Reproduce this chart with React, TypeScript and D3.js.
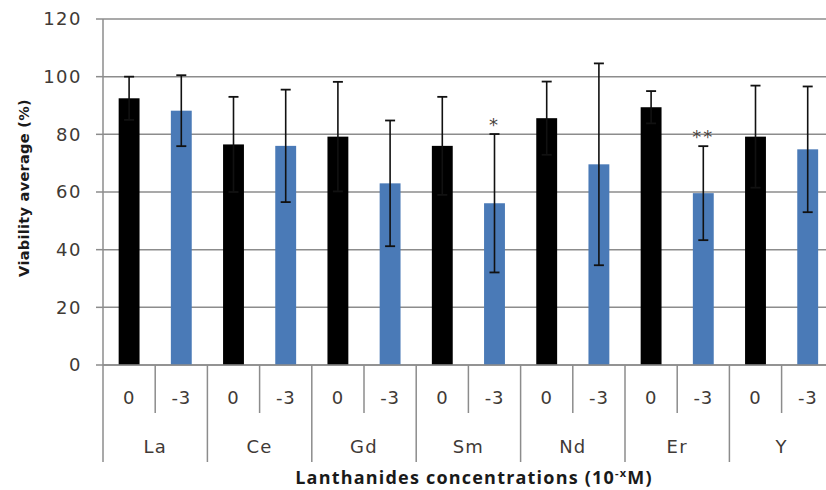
import React from "react";
import * as d3 from "d3";

const elements = ["La", "Ce", "Gd", "Sm", "Nd", "Er", "Y"];
const concentrations = ["0", "-3"];
const meansZero = [92.5, 76.5, 79.2, 76.0, 85.6, 89.4, 79.2];
const meansMinus3 = [88.2, 76.0, 63.0, 56.1, 69.6, 59.6, 74.8];
const errZero = [7.5, 16.5, 19.0, 17.0, 12.7, 5.6, 17.7];
const errMinus3 = [12.3, 19.5, 21.8, 24.0, 35.0, 16.3, 21.8];
const significance = ["", "", "", "*", "", "**", ""];
const yTicks = [0, 20, 40, 60, 80, 100, 120];

const W = 826;
const H = 490;
const left = 103;
const top = 19;
const bottom = 365;
const groupW = 104.4;
const right = left + groupW * elements.length;

const seriesColors: Record<string, string> = { "0": "#000000", "-3": "#4a7ab7" };

export default function App() {
  const y = d3.scaleLinear().domain([0, 120]).range([bottom, top]);
  const xG = d3.scaleBand().domain(elements).range([left, right]).padding(0);
  const xS = d3
    .scaleBand()
    .domain(concentrations)
    .range([0, xG.bandwidth()])
    .paddingInner(0.6)
    .paddingOuter(0.3);

  const rows = elements.flatMap((el, i) => [
    { el, c: "0", v: meansZero[i], e: errZero[i], sig: "" },
    { el, c: "-3", v: meansMinus3[i], e: errMinus3[i], sig: significance[i] },
  ]);

  const tickFont = "'DejaVu Sans', Verdana, sans-serif";
  const tickSize = 18;
  const labelColor = "#3f3a36";
  const gridColor = "#8c8c8c";
  const capW = 10;

  return (
    <svg
      width={W}
      height={H}
      style={{ position: "absolute", left: 0, top: 0, background: "#fff" }}
    >
      {/* gridlines */}
      {yTicks.map((t) => (
        <g key={t}>
          <line x1={left} x2={W} y1={y(t)} y2={y(t)} stroke={gridColor} strokeWidth={1.5} />
          <line x1={left - 7} x2={left} y1={y(t)} y2={y(t)} stroke={gridColor} strokeWidth={1.5} />
          <text
            x={82}
            y={y(t)}
            dy="0.36em"
            textAnchor="end"
            fontFamily={tickFont}
            fontSize={tickSize}
            letterSpacing={1.5}
            fill={labelColor}
          >
            {t}
          </text>
        </g>
      ))}
      {/* y axis */}
      <line x1={left} x2={left} y1={top} y2={bottom} stroke={gridColor} strokeWidth={1.5} />

      {/* bars */}
      {rows.map((r, i) => {
        const x0 = (xG(r.el) as number) + (xS(r.c) as number);
        const bw = xS.bandwidth();
        const cx = x0 + bw / 2;
        return (
          <g key={i}>
            <rect x={x0} y={y(r.v)} width={bw} height={bottom - y(r.v)} fill={seriesColors[r.c]} />
            <line x1={cx} x2={cx} y1={y(r.v + r.e)} y2={y(r.v - r.e)} stroke="#111" strokeWidth={1.6} />
            <line x1={cx - capW / 2} x2={cx + capW / 2} y1={y(r.v + r.e)} y2={y(r.v + r.e)} stroke="#111" strokeWidth={1.8} />
            <line x1={cx - capW / 2} x2={cx + capW / 2} y1={y(r.v - r.e)} y2={y(r.v - r.e)} stroke="#111" strokeWidth={1.8} />
            {r.sig && (
              <text
                x={cx}
                y={y(r.v + r.e) - 3}
                textAnchor="middle"
                fontFamily={tickFont}
                fontSize={18}
                fill="#4a4440"
                letterSpacing={2}
              >
                {r.sig}
              </text>
            )}
          </g>
        );
      })}

      {/* category axis */}
      <line x1={left} x2={W} y1={bottom} y2={bottom} stroke={gridColor} strokeWidth={1.5} />
      {elements.map((el) => {
        const gx = xG(el) as number;
        return (
          <g key={el}>
            <line x1={gx} x2={gx} y1={bottom} y2={462} stroke={gridColor} strokeWidth={1.5} />
            <line
              x1={gx + xG.bandwidth() / 2}
              x2={gx + xG.bandwidth() / 2}
              y1={bottom}
              y2={413}
              stroke={gridColor}
              strokeWidth={1.5}
            />
            {concentrations.map((c) => (
              <text
                key={c}
                x={gx + (xS(c) as number) + xS.bandwidth() / 2}
                y={398}
                dy="0.36em"
                textAnchor="middle"
                fontFamily={tickFont}
                fontSize={tickSize}
                letterSpacing={0.8}
                fill={labelColor}
              >
                {c}
              </text>
            ))}
            <text
              x={gx + xG.bandwidth() / 2}
              y={447}
              dy="0.36em"
              textAnchor="middle"
              fontFamily={tickFont}
              fontSize={tickSize}
              letterSpacing={1.2}
              fill={labelColor}
            >
              {el}
            </text>
          </g>
        );
      })}

      {/* axis titles */}
      <text
        x={474}
        y={484}
        textAnchor="middle"
        fontFamily="'Open Sans', sans-serif"
        fontWeight={700}
        fontSize={18}
        letterSpacing={1.2}
        fill="#1a1a1a"
      >
        Lanthanides concentrations (10
        <tspan fontSize={11} dy="-7">-x</tspan>
        <tspan dy="7">M)</tspan>
      </text>
      <text
        transform={`translate(24, ${(top + bottom) / 2 - 4}) rotate(-90)`}
        textAnchor="middle"
        dy="0.36em"
        fontFamily="'DejaVu Sans', Verdana, sans-serif"
        fontWeight={700}
        fontSize={14.5}
        letterSpacing={0.3}
        fill="#1a1a1a"
      >
        Viability average (%)
      </text>
    </svg>
  );
}
